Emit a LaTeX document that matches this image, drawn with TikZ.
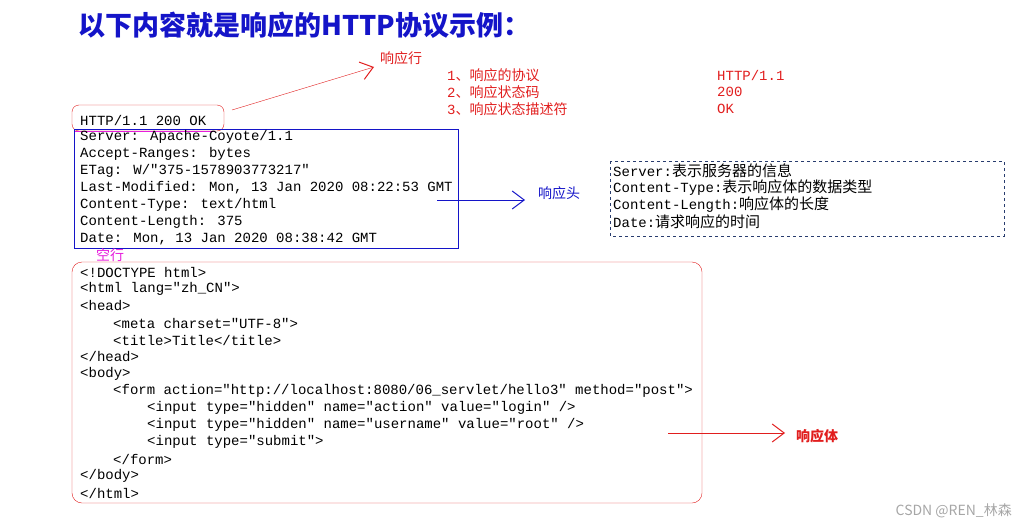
\documentclass[tikz,border=0pt]{standalone}
\usepackage{fontspec}
\setmainfont{Liberation Mono}
\newfontfamily\cjk{Noto Sans CJK SC}
\newfontfamily\mono{Liberation Mono}
\usetikzlibrary{arrows.meta}
\definecolor{tblue}{RGB}{20,20,200}
\definecolor{rred}{RGB}{225,30,30}
\definecolor{dbox}{RGB}{40,60,110}
\definecolor{kmag}{RGB}{230,30,220}
\newcommand\zh[1]{{\cjk\fontsize{15}{17}\selectfont #1}}
\begin{document}
\begin{tikzpicture}[x=1pt,y=-1pt,
  code/.style={anchor=west,inner sep=0pt,font=\mono\fontsize{14}{16}\selectfont},
  note/.style={anchor=west,inner sep=0pt,font=\cjk\fontsize{14}{16}\selectfont},
  vtip/.style={-{Straight Barb[length=12pt,width=18pt,line width=1pt]}}]
\useasboundingbox (0,0) rectangle (1020,530);
\node[anchor=west,inner sep=0pt,text=tblue,font=\cjk\bfseries\fontsize{27}{30}\selectfont] (title) at (78,25) {以下内容就是响应的HTTP协议示例：};
% response line
\node[note,text=rred] (lbl1) at (380,58) {响应行};
\node[code] (hl) at (80,120) {HTTP/1.1 200 OK};
\draw[rred,rounded corners=7pt] (72,105) rectangle (224,131);
\draw[kmag,thick] (74,131) -- (215,131);
\coordinate (a1s) at (232,110);
\coordinate (a1e) at (374,67);
\draw[rred,vtip] (a1s) -- (a1e);
\node[note,text=rred] (n1) at (447,75) {\mono 1\cjk 、响应的协议};
\node[note,text=rred] (n2) at (447,92) {\mono 2\cjk 、响应状态码};
\node[note,text=rred] (n3) at (447,109) {\mono 3\cjk 、响应状态描述符};
\node[code,text=rred] (v1) at (717,75) {HTTP/1.1};
\node[code,text=rred] (v2) at (717,92) {200};
\node[code,text=rred] (v3) at (717,109) {OK};
% headers
\draw[tblue] (74,129) rectangle (458,248);
\node[code] (h1) at (80,137) {Server: Apache-Coyote/1.1};
\node[code] (h2) at (80,154) {Accept-Ranges: bytes};
\node[code] (h3) at (80,171) {ETag: W/"375-1578903773217"};
\node[code] (h4) at (80,188) {Last-Modified: Mon, 13 Jan 2020 08:22:53 GMT};
\node[code] (h5) at (80,205) {Content-Type: text/html};
\node[code] (h6) at (80,222) {Content-Length: 375};
\node[code] (h7) at (80,239) {Date: Mon, 13 Jan 2020 08:38:42 GMT};
\coordinate (a2s) at (437,200);
\coordinate (a2e) at (525,200);
\draw[tblue,vtip] (a2s) -- (a2e);
\node[note,text=tblue] (lbl2) at (538,193) {响应头};
\draw[dbox,dashed,thick] (610,161) rectangle (1004,236);
\node[code] (d1) at (613,171) {Server:\zh{表示服务器的信息}};
\node[code] (d2) at (613,188) {Content-Type:\zh{表示响应体的数据类型}};
\node[code] (d3) at (613,205) {Content-Length:\zh{响应体的长度}};
\node[code] (d4) at (613,222) {Date:\zh{请求响应的时间}};
\node[note,text=kmag] (lbl3) at (96,255) {空行};
% body
\draw[rred,rounded corners=10pt] (72,262) rectangle (702,503);
\node[code] (b1) at (80,272) {<!DOCTYPE html>};
\node[code] (b2) at (80,289) {<html lang="zh\_CN">};
\node[code] (b3) at (80,306) {<head>};
\node[code] (b4) at (113,323) {<meta charset="UTF-8">};
\node[code] (b5) at (113,340) {<title>Title</title>};
\node[code] (b6) at (80,357) {</head>};
\node[code] (b7) at (80,374) {<body>};
\node[code] (b8) at (113,391) {<form action="http://localhost:8080/06\_servlet/hello3" method="post">};
\node[code] (b9) at (147,408) {<input type="hidden" name="action" value="login" />};
\node[code] (b10) at (147,425) {<input type="hidden" name="username" value="root" />};
\node[code] (b11) at (147,442) {<input type="submit">};
\node[code] (b12) at (113,459) {</form>};
\node[code] (b13) at (80,476) {</body>};
\node[code] (b14) at (80,493) {</html>};
\coordinate (a3s) at (668,433);
\coordinate (a3e) at (785,433);
\draw[rred,vtip] (a3s) -- (a3e);
\node[note,text=rred,font=\cjk\bfseries\fontsize{14}{16}\selectfont] (lbl4) at (796,436) {响应体};
\node[anchor=east,inner sep=0pt,text=gray!70,font=\cjk\fontsize{14}{16}\selectfont] (wm) at (1012,511) {CSDN @REN\_林森};
\end{tikzpicture}
\end{document}
